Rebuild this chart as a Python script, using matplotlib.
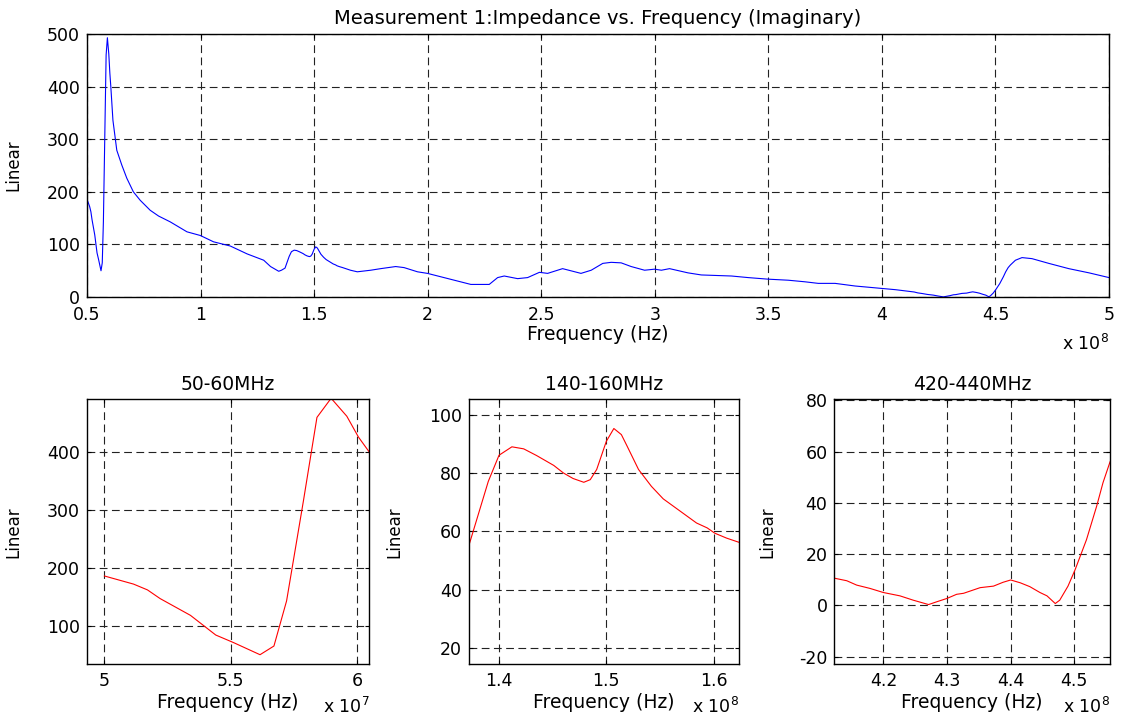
import numpy as np
import matplotlib
matplotlib.use("Agg")
import matplotlib.pyplot as plt
from matplotlib.ticker import FuncFormatter

plt.rcParams["font.family"] = ["DejaVu Sans"]
plt.rcParams["axes.unicode_minus"] = False

freq_mhz = [50, 51.15, 51.7, 52.2, 53.4, 54.4, 55.1, 56.15, 56.7, 57.2, 57.87, 58.4,
            58.96, 59.58, 60.04, 60.47, 61.4, 63.1, 65.3, 67.5, 70.4, 73.4, 77.8, 81.5,
            86.6, 94, 99.9, 105.7, 113.1, 120.5, 127.8, 130.8, 134.4, 135.6, 137.18,
            138.2, 139, 140, 141.2, 142.3, 143.5, 145.1, 146, 146.9, 147.9, 148.5,
            149.1, 150, 150.7, 151.4, 151.9, 153, 154.2, 155.3, 156.9, 158.4, 159.4,
            160.1, 161.2, 162.4, 166, 169, 174.9, 179.3, 185.9, 189.6, 195.5, 199.9,
            207.2, 214.6, 219, 227.1, 230.8, 233.7, 239.6, 244, 249.2, 252.8, 259.4,
            267.5, 272, 277.1, 280.8, 285.2, 289.6, 295.5, 299.9, 302.9, 306.5, 314.6,
            320.5, 333.8, 341.1, 349.9, 358.8, 366.1, 372, 379.4, 388.2, 400, 406,
            412.3, 414.25, 415.8, 417.9, 420, 422.6, 424.7, 427.1, 428.4, 430, 431.5,
            432.6, 435.2, 437.3, 438.8, 440, 441.5, 443, 444.6, 445.7, 447, 447.7, 449,
            450.1, 451.9, 453.5, 454.5, 455.6, 456.6, 458.8, 461.7, 466.1, 473.5, 482.3,
            491.2, 500]
imag_ohm = [186, 172, 162, 147, 118, 84, 71, 50, 65, 143, 317, 460,
            493, 462, 426, 400, 336, 279, 251, 226, 200, 184, 165, 154,
            143, 124, 117, 105, 97, 82, 70, 58, 49, 51, 55,
            67.5, 77.2, 86.2, 89.1, 88.4, 86.1, 82.7, 80.1, 78.2, 76.9, 77.8,
            81.3, 91, 95.4, 93.3, 89.6, 81.3, 75.5, 71.2, 66.9, 62.9, 61.2,
            59.4, 57.7, 56.2, 51, 48, 51, 54, 58, 56, 48, 45,
            37, 29, 24, 24, 37, 40, 35, 37, 47, 45, 54,
            45, 51, 64, 66, 65, 58, 51, 53, 51, 54, 46,
            42, 40, 37, 34, 32, 29, 26, 26, 21, 16.5, 14,
            10.6, 9.6, 7.9, 6.6, 5.0, 3.7, 2.0, 0.3, 1.4, 2.7, 4.3,
            4.7, 6.9, 7.5, 9.0, 9.9, 8.8, 7.3, 5.0, 3.7, 0.7, 2.0, 7.5,
            13.8, 25.6, 38.7, 47.9, 56, 61, 70, 75, 73, 64, 54,
            46, 37]

title_main = "Measurement 1:Impedance vs. Frequency (Imaginary)"
zoom_titles = ["50-60MHz", "140-160MHz", "420-440MHz"]
zoom_xlim = [(4.93e7, 6.047e7), (1.3718e8, 1.6236e8), (4.123e8, 4.556e8)]
zoom_ylim = [(34, 491), (14.4, 105.4), (-22.9, 80.4)]
zoom_xticks = [[5.0e7, 5.5e7, 6.0e7], [1.4e8, 1.5e8, 1.6e8], [4.2e8, 4.3e8, 4.4e8, 4.5e8]]
zoom_yticks = [[100, 200, 300, 400], [20, 40, 60, 80, 100], [-20, 0, 20, 40, 60, 80]]
zoom_exp = [7, 8, 8]

f_hz = np.array(freq_mhz) * 1e6
z_im = np.array(imag_ohm)

grid_style = dict(color="#222222", linestyle=(0, (7, 4)), linewidth=0.8)
TICK_FS = 12.5
LABEL_FS = 13.5


def style_axes(ax, exp, xpad, ypad):
    ax.grid(True, **grid_style)
    ax.tick_params(direction="in", top=True, right=True, length=3, width=0.8,
                   labelsize=TICK_FS)
    ax.tick_params(axis="x", pad=xpad)
    ax.tick_params(axis="y", pad=ypad)
    for s in ax.spines.values():
        s.set_linewidth(1.0)
    ax.xaxis.set_major_formatter(FuncFormatter(lambda v, p: "{:g}".format(round(v / 10 ** exp, 6))))


fig = plt.figure(figsize=(11.26, 7.21), dpi=100)

# main trace
ax = fig.add_axes([0.0773, 0.588, 0.9076, 0.3648])
ax.plot(f_hz, z_im, color="#0000ff", lw=0.8)
ax.set_xlim(0.5e8, 5e8)
ax.set_ylim(0, 500)
ax.set_xticks(np.arange(0.5e8, 5.01e8, 0.5e8))
ax.set_yticks(np.arange(0, 501, 100))
style_axes(ax, 8, 6.5, 5)
ax.set_title(title_main, fontsize=14, pad=7)
ax.set_xlabel("Frequency (Hz)", fontsize=LABEL_FS)
ax.xaxis.set_label_coords(0.5, -0.108)
ax.set_ylabel("Linear", fontsize=12)
ax.yaxis.set_label_coords(-0.0636, 0.5)
ax.text(1.0, -0.178, r"x 10$^{8}$", transform=ax.transAxes, ha="right", va="center",
        fontsize=TICK_FS)

# zoomed windows
lefts = [0.077, 0.4163, 0.741]
widths = [0.251, 0.240, 0.2448]
ylab_x = [-0.229, -0.243, -0.211]
for i in range(3):
    a = fig.add_axes([lefts[i], 0.0791, widths[i], 0.3669])
    a.plot(f_hz, z_im, color="#ff0000", lw=0.8)
    a.set_xlim(*zoom_xlim[i])
    a.set_ylim(*zoom_ylim[i])
    a.set_xticks(zoom_xticks[i])
    a.set_yticks(zoom_yticks[i])
    style_axes(a, zoom_exp[i], 6, 5)
    a.set_title(zoom_titles[i], fontsize=LABEL_FS, pad=7)
    a.set_xlabel("Frequency (Hz)", fontsize=LABEL_FS)
    a.xaxis.set_label_coords(0.5, -0.108)
    a.set_ylabel("Linear", fontsize=12)
    a.yaxis.set_label_coords(ylab_x[i], 0.5)
    a.text(1.0, -0.163, r"x 10$^{%d}$" % zoom_exp[i], transform=a.transAxes,
           ha="right", va="center", fontsize=TICK_FS)

fig.savefig("out.png", dpi=100)
